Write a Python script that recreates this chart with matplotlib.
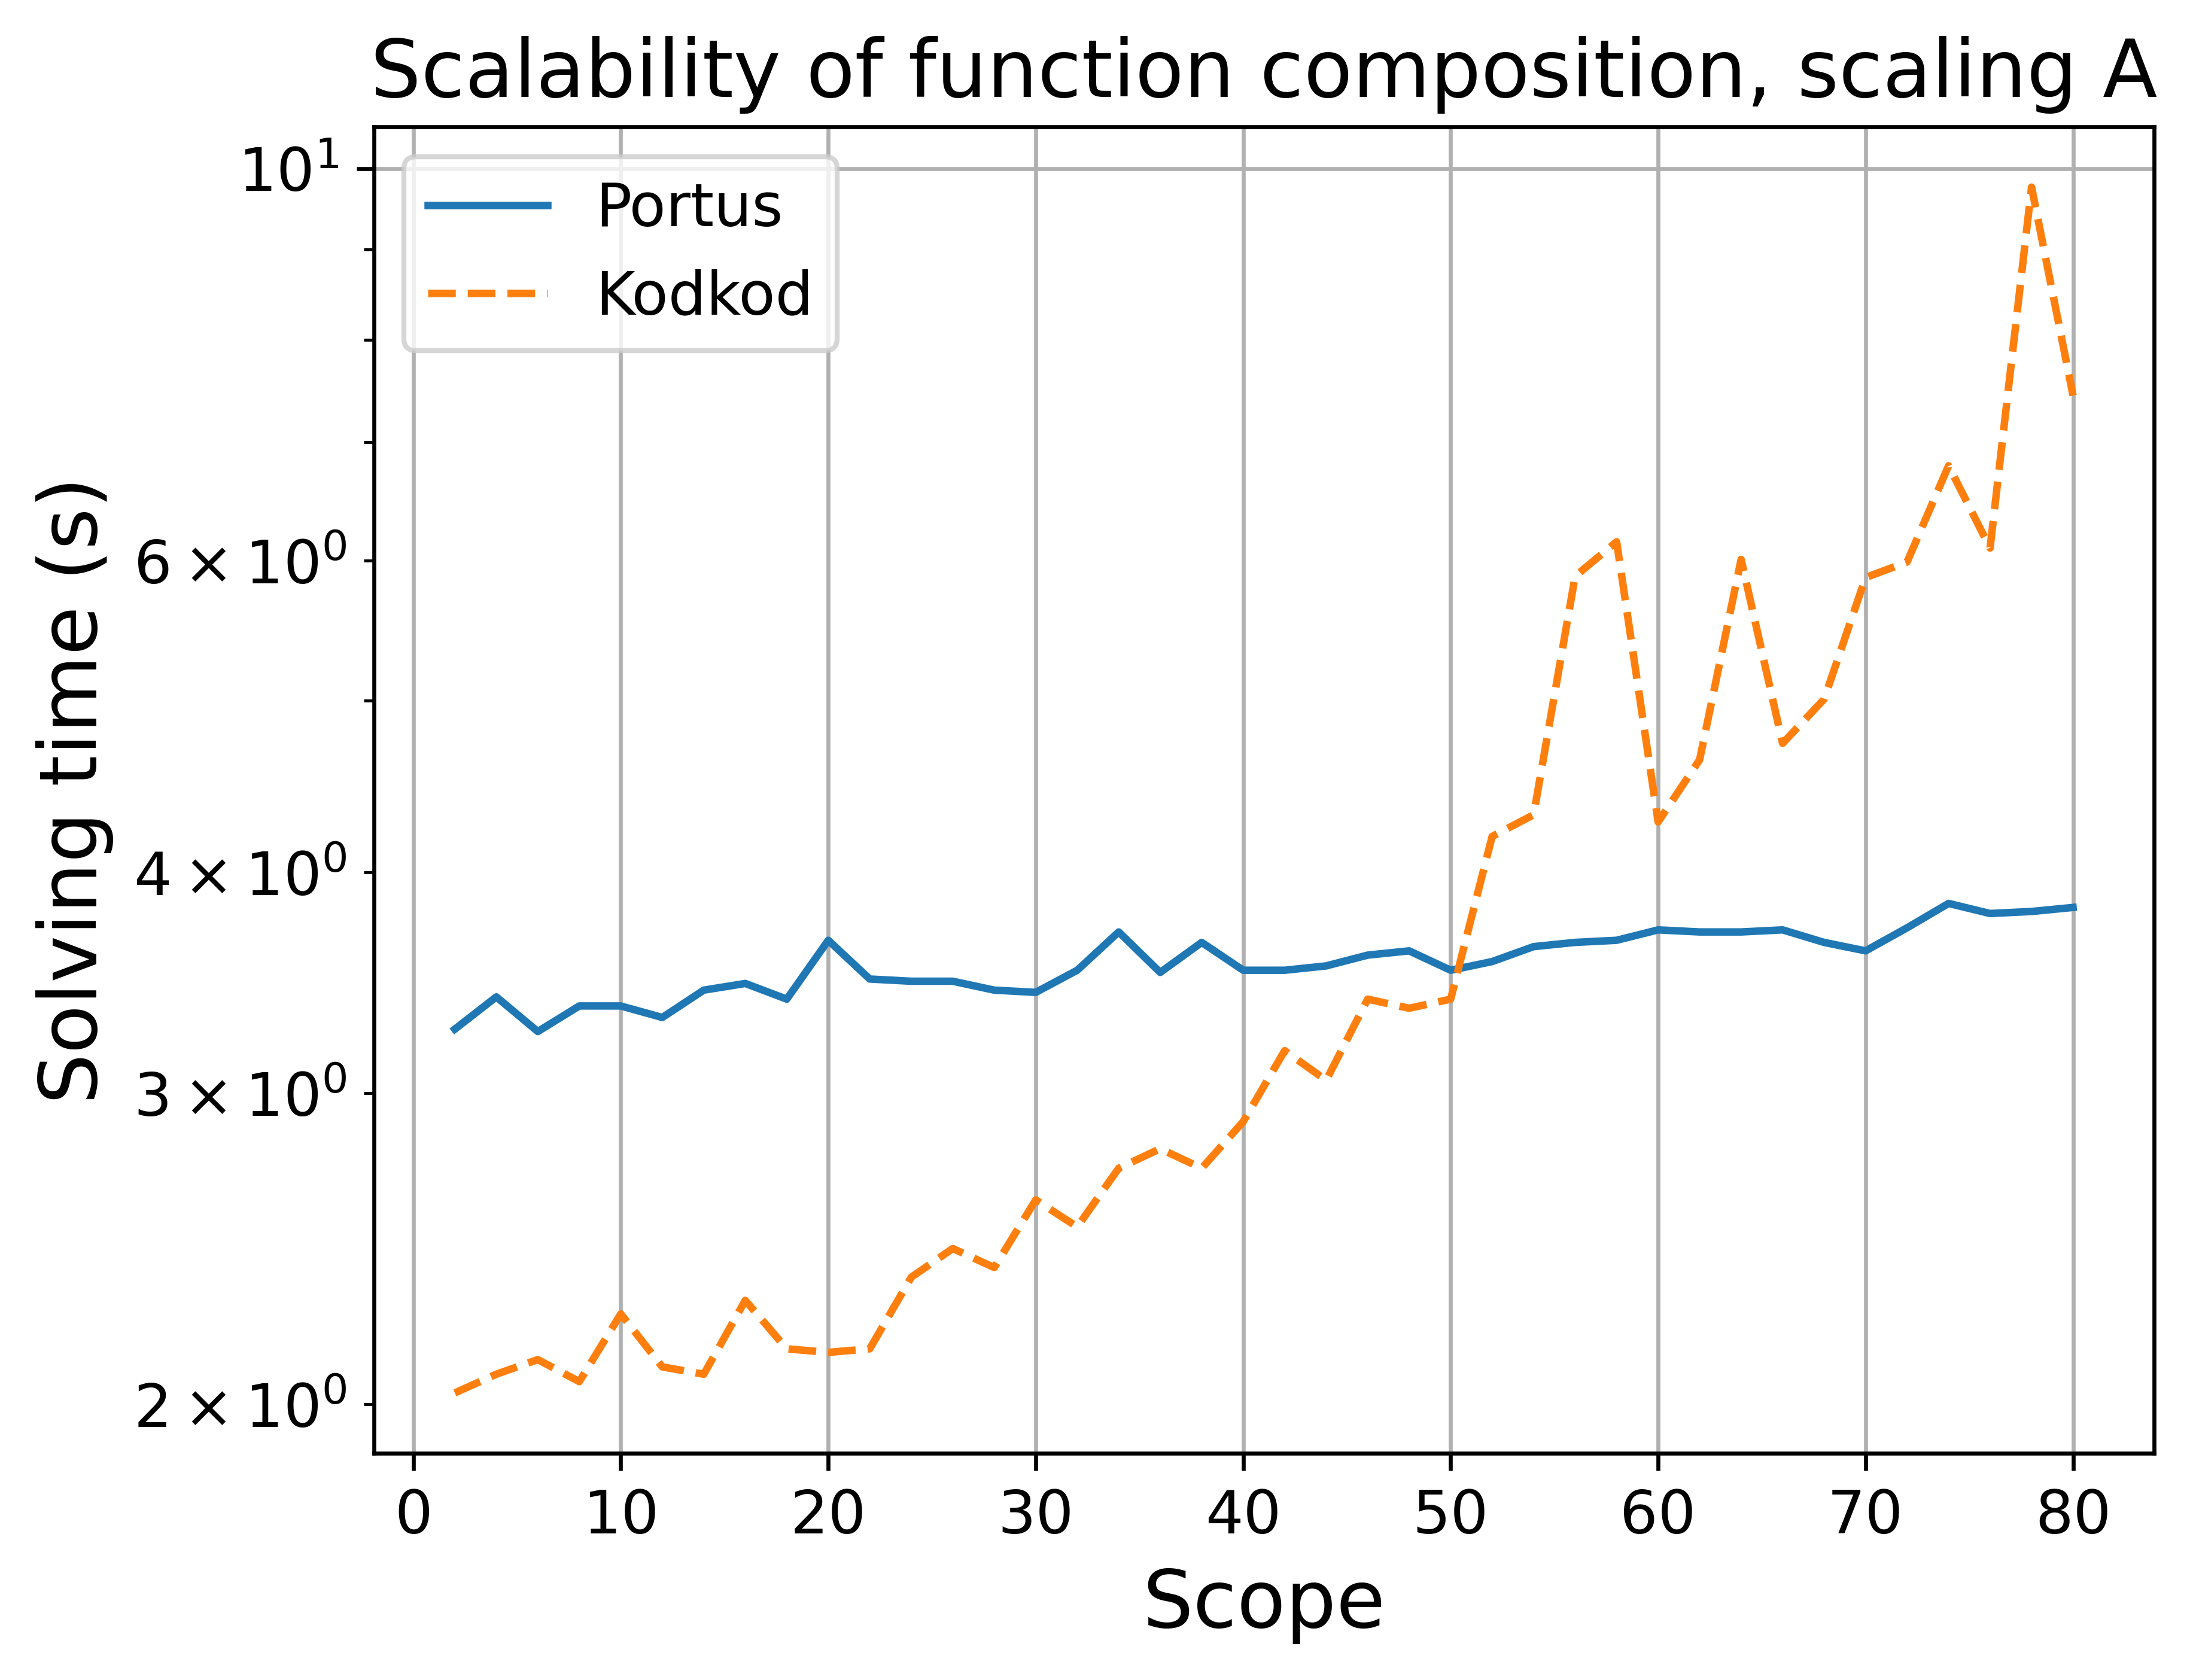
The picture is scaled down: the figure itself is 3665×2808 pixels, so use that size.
import matplotlib
matplotlib.use("Agg")
import matplotlib.pyplot as plt

# scope values (every 2 from 2 to 80)
scope = list(range(2, 82, 2))

portus = [3.26, 3.40, 3.25, 3.36, 3.36, 3.31, 3.43, 3.46, 3.39, 3.66,
          3.48, 3.47, 3.47, 3.43, 3.42, 3.52, 3.70, 3.51, 3.65, 3.52,
          3.52, 3.54, 3.59, 3.61, 3.52, 3.56, 3.63, 3.65, 3.66, 3.71,
          3.70, 3.70, 3.71, 3.65, 3.61, 3.72, 3.84, 3.79, 3.80, 3.82]

kodkod = [2.03, 2.08, 2.12, 2.06, 2.25, 2.10, 2.08, 2.29, 2.15, 2.14,
          2.15, 2.36, 2.45, 2.39, 2.61, 2.52, 2.72, 2.79, 2.72, 2.89,
          3.17, 3.05, 3.39, 3.35, 3.39, 4.19, 4.31, 5.88, 6.15, 4.27,
          4.63, 6.01, 4.73, 5.01, 5.87, 5.99, 6.79, 6.10, 9.76, 7.44]

fig = plt.figure(figsize=(3665 / 600, 2808 / 600), dpi=600)
ax = fig.add_axes([0.1705, 0.135, 0.8117, 0.7895])

ax.plot(scope, portus, label="Portus")
ax.plot(scope, kodkod, "--", label="Kodkod")
ax.set_yscale("log")
ax.grid(True)

ax.set_title("Scalability of function composition, scaling A", fontsize=16)
ax.set_xlabel("Scope", fontsize=16)
ax.set_ylabel("Solving time (s)", fontsize=16)
ax.tick_params(axis="both", which="both", labelsize=12)
ax.legend(fontsize=12, loc="upper left")

fig.savefig("out.png", dpi=600)
